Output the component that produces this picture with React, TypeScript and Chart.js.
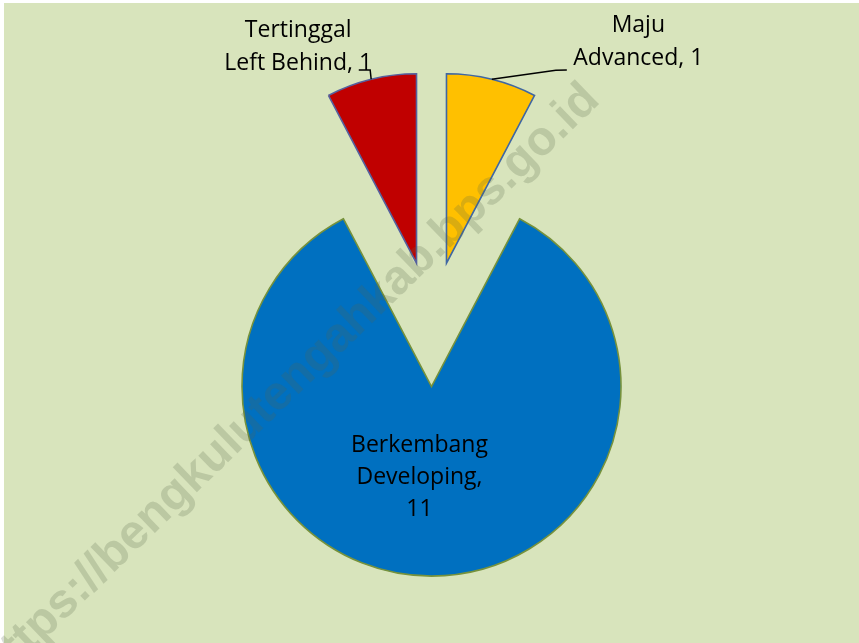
import React, { useEffect, useRef } from "react";
import { Chart, registerables } from "chart.js";

Chart.register(...registerables);

// ---- data ----
const namesId = ["Maju", "Berkembang", "Tertinggal"];
const namesEn = ["Advanced", "Developing", "Left Behind"];
const values = [1, 11, 1];
const sliceColors = ["#FFC000", "#0070C0", "#C00000"];
const sliceBorders = ["#3F67A3", "#76923C", "#55609E"];
const watermarkText = "https://bengkulutengahkab.bps.go.id";

const BG = "#D8E4BC";
const EXPLODE = 62.6;
const RADIUS = 189.5;
const LABEL_FONT = "23px 'Open Sans', 'Noto Sans', sans-serif";

const backgroundPlugin = {
  id: "bgFill",
  beforeDraw(chart: any) {
    const ctx = chart.ctx;
    ctx.save();
    ctx.fillStyle = "#FFFFFF";
    ctx.fillRect(0, 0, chart.width, chart.height);
    ctx.fillStyle = BG;
    ctx.fillRect(4, 3, chart.width - 4, chart.height - 3);
    ctx.restore();
  },
};

const explodePlugin = {
  id: "explode",
  afterDatasetUpdate(chart: any, args: any) {
    const { chartArea } = chart;
    const cx = (chartArea.left + chartArea.right) / 2;
    const cy = (chartArea.top + chartArea.bottom) / 2;
    args.meta.data.forEach((el: any) => {
      const mid = (el.startAngle + el.endAngle) / 2;
      el.x = cx + Math.cos(mid) * EXPLODE;
      el.y = cy + Math.sin(mid) * EXPLODE;
    });
  },
};

const watermarkPlugin = {
  id: "watermark",
  afterDatasetsDraw(chart: any) {
    const ctx = chart.ctx;
    ctx.save();
    ctx.translate(290, 384);
    ctx.rotate((-44 * Math.PI) / 180);
    ctx.font = "bold 48px 'Liberation Sans', Arial, sans-serif";
    ctx.fillStyle = "rgba(85,100,75,0.22)";
    ctx.textAlign = "center";
    ctx.textBaseline = "middle";
    ctx.fillText(watermarkText, 0, 0);
    ctx.restore();
  },
};

const labelPlugin = {
  id: "sliceLabels",
  afterDraw(chart: any) {
    const ctx = chart.ctx;
    const arcs = chart.getDatasetMeta(0).data;
    ctx.save();
    ctx.font = LABEL_FONT;
    ctx.fillStyle = "#000000";
    ctx.strokeStyle = "#000000";
    ctx.lineWidth = 1.5;
    ctx.textAlign = "center";
    ctx.textBaseline = "alphabetic";
    arcs.forEach((el: any, i: number) => {
      const mid = (el.startAngle + el.endAngle) / 2;
      const ex = el.x + Math.cos(mid) * el.outerRadius;
      const ey = el.y + Math.sin(mid) * el.outerRadius;
      if (i === 1) {
        const lines = [namesId[i], namesEn[i] + ",", String(values[i])];
        const c = el.tooltipPosition();
        const base = c.y - 29;
        lines.forEach((t, k) => ctx.fillText(t, c.x - 12, base + k * 32));
      } else if (i === 0) {
        ctx.beginPath();
        ctx.moveTo(ex, ey);
        ctx.lineTo(ex + 64, ey - 9);
        ctx.lineTo(ex + 75, ey - 9.3);
        ctx.stroke();
        const lines = [namesId[i], namesEn[i] + ", " + values[i]];
        const tx = ex + 146.5;
        lines.forEach((t, k) => ctx.fillText(t, tx, ey - 47 + k * 33.2));
      } else {
        ctx.beginPath();
        ctx.moveTo(ex, ey);
        ctx.lineTo(ex - 1, ey - 9.3);
        ctx.lineTo(ex - 12.4, ey - 9.3);
        ctx.stroke();
        const lines = [namesId[i], namesEn[i] + ", " + values[i]];
        const tx = ex - 73;
        lines.forEach((t, k) => ctx.fillText(t, tx, ey - 42.7 + k * 33.4));
      }
    });
    ctx.restore();
  },
};

export default function App() {
  const canvasRef = useRef<HTMLCanvasElement | null>(null);

  useEffect(() => {
    const canvas = canvasRef.current;
    if (!canvas) return;
    const chart = new Chart(canvas, {
      type: "pie",
      data: {
        labels: namesId.map((n, i) => n + " / " + namesEn[i]),
        datasets: [
          {
            data: values,
            backgroundColor: sliceColors,
            borderColor: sliceBorders,
            borderWidth: 1.6,
            borderJoinStyle: "miter",
          } as any,
        ],
      },
      options: {
        responsive: false,
        animation: false,
        radius: RADIUS,
        layout: { padding: { left: 4, right: 0, top: 5, bottom: 0 } },
        plugins: {
          legend: { display: false },
          tooltip: { enabled: false },
        },
      } as any,
      plugins: [backgroundPlugin, explodePlugin, watermarkPlugin, labelPlugin],
    });
    return () => chart.destroy();
  }, []);

  return (
    <div style={{ position: "absolute", left: 0, top: 0, width: 859, height: 643 }}>
      <canvas ref={canvasRef} width={859} height={643} style={{ display: "block" }} />
    </div>
  );
}
